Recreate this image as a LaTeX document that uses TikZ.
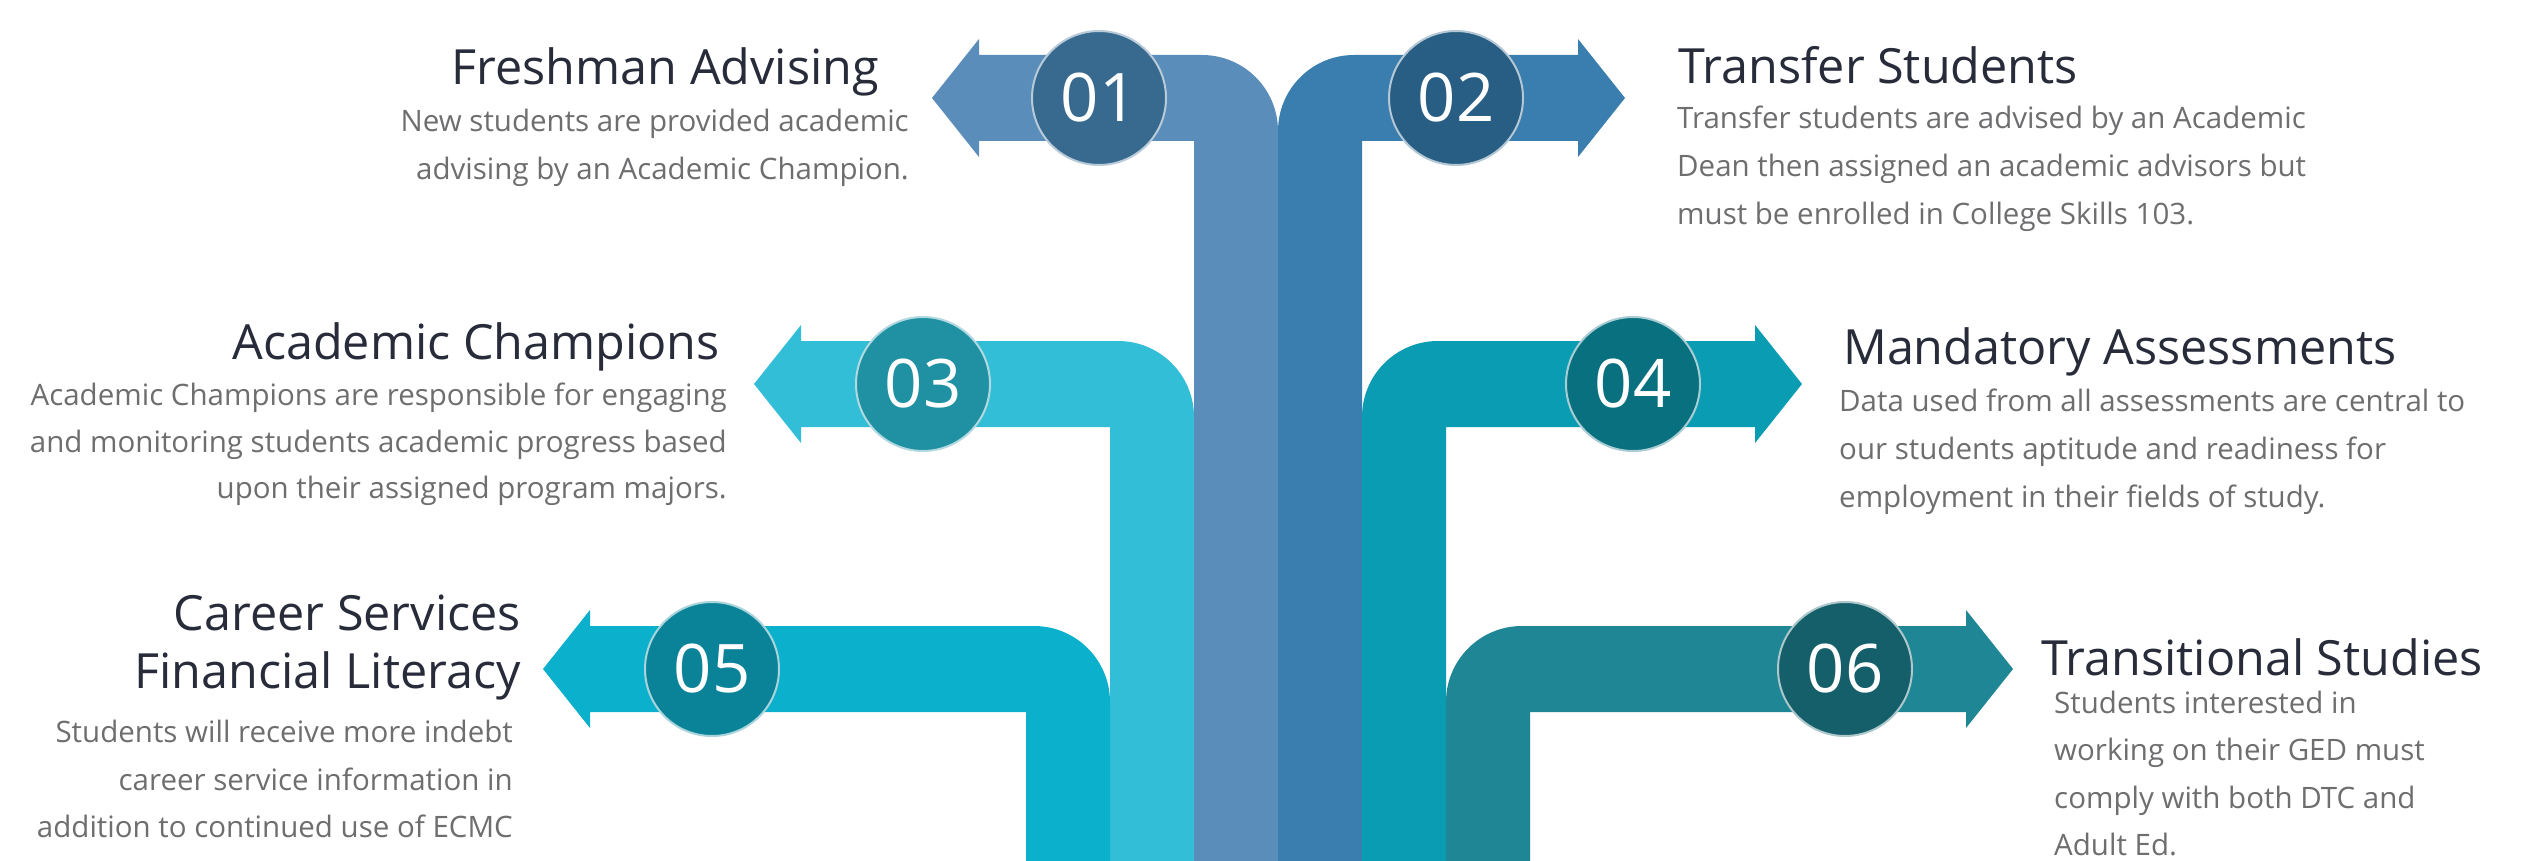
\documentclass[tikz,border=0pt]{standalone}
\usepackage{fontspec}
\setmainfont{Open Sans}
\definecolor{titlecol}{HTML}{282C3A}
\definecolor{bodycol}{HTML}{6E6E70}
\definecolor{aA}{HTML}{5A8DBA}\definecolor{cA}{HTML}{386A8F}
\definecolor{aB}{HTML}{3A7EAF}\definecolor{cB}{HTML}{285E83}
\definecolor{aC}{HTML}{33BED8}\definecolor{cC}{HTML}{1F91A3}
\definecolor{aD}{HTML}{0A9CB3}\definecolor{cD}{HTML}{08707F}
\definecolor{aE}{HTML}{0BB0CD}\definecolor{cE}{HTML}{0A8399}
\definecolor{aF}{HTML}{1E8694}\definecolor{cF}{HTML}{155F6A}
% left-pointing branch: tip x, bar left x, centre y, colour
\newcommand\lbranch[4]{%
  \fill[#4] (#2,861) -- (#2,{#3+43}) -- ({#1+47},{#3+43}) -- ({#1+47},{#3+59}) -- (#1,#3)
    -- ({#1+47},{#3-59}) -- ({#1+47},{#3-43}) -- ({#2+8},{#3-43})
    .. controls ({#2+50},{#3-43}) and ({#2+84},{#3-9}) .. ({#2+84},{#3+33})
    -- ({#2+84},861) -- cycle;}
% right-pointing branch: tip x, bar left x, centre y, colour
\newcommand\rbranch[4]{%
  \fill[#4] ({#2+84},861) -- ({#2+84},{#3+43}) -- ({#1-47},{#3+43}) -- ({#1-47},{#3+59}) -- (#1,#3)
    -- ({#1-47},{#3-59}) -- ({#1-47},{#3-43}) -- ({#2+76},{#3-43})
    .. controls ({#2+34},{#3-43}) and (#2,{#3-9}) .. (#2,{#3+33})
    -- (#2,861) -- cycle;}
\begin{document}
\begin{tikzpicture}[x=1pt,y=-1pt,
  title/.style={font=\fontsize{48.5}{58}\selectfont, text=titlecol, inner sep=0},
  body/.style={font=\fontsize{29.5}{47}\selectfont, text=bodycol, inner sep=0},
  num/.style={circle, minimum size=134pt, inner sep=0, line width=2pt,
    font=\fontsize{67}{67}\selectfont, text=white}]
\useasboundingbox[fill=white] (0,0) rectangle (2547,861);
% branches
\lbranch{932}{1194}{98}{aA}
\rbranch{1625}{1278}{98}{aB}
\lbranch{754}{1110}{384}{aC}
\rbranch{1802}{1362}{384}{aD}
\lbranch{543}{1026}{669}{aE}
\rbranch{2013}{1446}{669}{aF}
% number discs
\node[num, fill=cA, draw=cA!35!white] (n1) at (1099,98) {01};
\node[num, fill=cB, draw=cB!35!white] (n2) at (1456,98) {02};
\node[num, fill=cC, draw=cC!35!white] (n3) at (923,384) {03};
\node[num, fill=cD, draw=cD!35!white] (n4) at (1633,384) {04};
\node[num, fill=cE, draw=cE!35!white] (n5) at (712,669) {05};
\node[num, fill=cF, draw=cF!35!white] (n6) at (1845,669) {06};
% texts 01
\node[title, anchor=base east] (t1) at (879,85) {Freshman Advising};
\node[body, anchor=base east] (d1a) at (909,132) {New students are provided academic};
\node[body, anchor=base east] (d1b) at (909,179) {advising by an Academic Champion.};
% texts 02
\node[title, anchor=base west] (t2) at (1678,84) {Transfer Students};
\node[body, anchor=base west] (d2a) at (1677,129) {Transfer students are advised by an Academic};
\node[body, anchor=base west] (d2b) at (1677,177) {Dean then assigned an academic advisors but};
\node[body, anchor=base west] (d2c) at (1677,225) {must be enrolled in College Skills 103.};
% texts 03
\node[title, anchor=base east] (t3) at (720,359) {Academic Champions};
\node[body, anchor=base east] (d3a) at (727,405) {Academic Champions are responsible for engaging};
\node[body, anchor=base east] (d3b) at (727,452) {and monitoring students academic progress based};
\node[body, anchor=base east] (d3c) at (727,498) {upon their assigned program majors.};
% texts 04
\node[title, anchor=base west] (t4) at (1843,364) {Mandatory Assessments};
\node[body, anchor=base west] (d4a) at (1839,411) {Data used from all assessments are central to};
\node[body, anchor=base west] (d4b) at (1839,459) {our students aptitude and readiness for};
\node[body, anchor=base west] (d4c) at (1839,507) {employment in their fields of study.};
% texts 05
\node[title, anchor=base east] (t5a) at (521,630) {Career Services};
\node[title, anchor=base east] (t5b) at (521,688) {Financial Literacy};
\node[body, anchor=base east] (d5a) at (513,742) {Students will receive more indebt};
\node[body, anchor=base east] (d5b) at (513,790) {career service information in};
\node[body, anchor=base east] (d5c) at (513,837) {addition to continued use of ECMC};
% texts 06
\node[title, anchor=base west] (t6) at (2041,675) {Transitional Studies};
\node[body, anchor=base west] (d6a) at (2054,713) {Students interested in};
\node[body, anchor=base west] (d6b) at (2054,760) {working on their GED must};
\node[body, anchor=base west] (d6c) at (2054,808) {comply with both DTC and};
\node[body, anchor=base west] (d6d) at (2054,855) {Adult Ed.};
\end{tikzpicture}
\end{document}
